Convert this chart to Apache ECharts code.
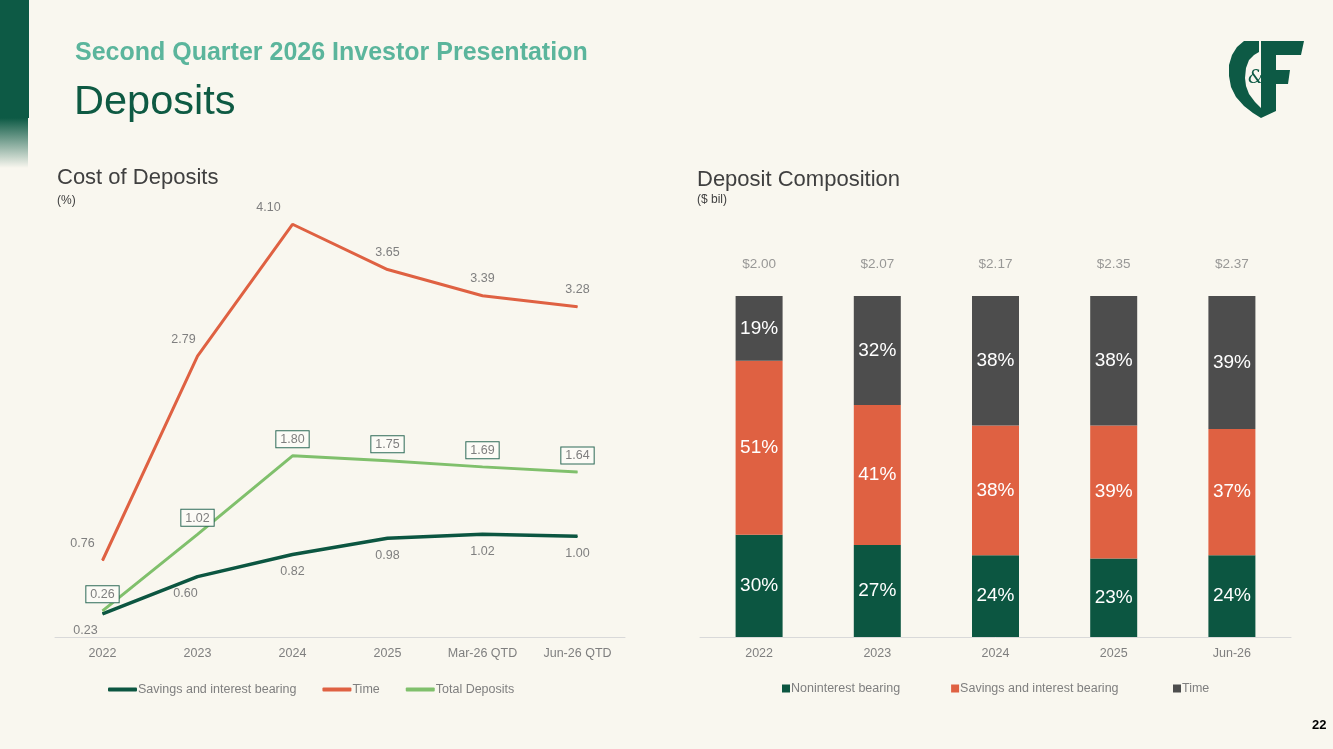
<!DOCTYPE html>
<html>
<head>
<meta charset="utf-8">
<script src="https://cdn.jsdelivr.net/npm/echarts@6/dist/echarts.min.js"></script>
<style>
html,body{margin:0;padding:0;background:#f9f7ef;}
#c{width:1333px;height:749px;}
</style>
</head>
<body>
<div id="c"></div>
<script>
// ---- data ----
const costCategories = ['2022', '2023', '2024', '2025', 'Mar-26 QTD', 'Jun-26 QTD'];
const savingsCost = [0.23, 0.60, 0.82, 0.98, 1.02, 1.00];
const timeCost = [0.76, 2.79, 4.10, 3.65, 3.39, 3.28];
const totalCost = [0.26, 1.02, 1.80, 1.75, 1.69, 1.64];

const compCategories = ['2022', '2023', '2024', '2025', 'Jun-26'];
const noninterestPct = [30, 27, 24, 23, 24];
const savingsPct = [51, 41, 38, 39, 37];
const timePct = [19, 32, 38, 38, 39];
const depositTotals = [2.00, 2.07, 2.17, 2.35, 2.37];
const stackTop = [100, 100, 100, 100, 100];

// ---- style (label nudges, as placed on the slide) ----
const savingsLabelDx = [-17, -12, 0, 0, 0, 0];
const timeLabelDx = [-20, -14, -24, 0, 0, 0];

const FONT = "'Liberation Sans', Arial, sans-serif";
const DK = '#0c5641';
const OR = '#df6142';
const LG = '#80c06c';
const LBL = '#7f7f7f';

const chart = echarts.init(document.getElementById('c'), null, {renderer: 'canvas'});

function withDx(values, dx) {
  return values.map((v, i) => dx && dx[i] ? {value: v, label: {offset: [dx[i], 0]}} : v);
}

function lineSeries(name, data, color, width, label, z) {
  return {name: name, type: 'line', xAxisIndex: 0, yAxisIndex: 0, data: data,
    symbol: 'circle', symbolSize: 1, showSymbol: true,
    lineStyle: {color: color, width: width}, itemStyle: {color: color},
    label: Object.assign({show: true, color: LBL, fontSize: 12.5, fontFamily: FONT,
      formatter: p => Number(p.value).toFixed(2)}, label), z: z};
}

const option = {
  backgroundColor: '#f9f7ef',
  textStyle: {fontFamily: FONT},
  animation: false,
  grid: [
    {left: 55, right: 708, top: 184, bottom: 112},
    {left: 700, right: 42, top: 296, bottom: 112}
  ],
  xAxis: [
    {type: 'category', gridIndex: 0, data: costCategories,
     axisLine: {lineStyle: {color: '#d9d9d9'}}, axisTick: {show: false},
     axisLabel: {color: LBL, fontSize: 12.5, margin: 10, fontFamily: FONT}},
    {type: 'category', gridIndex: 1, data: compCategories,
     axisLine: {lineStyle: {color: '#d9d9d9'}}, axisTick: {show: false},
     axisLabel: {color: LBL, fontSize: 12.5, margin: 10, fontFamily: FONT}}
  ],
  yAxis: [
    {type: 'value', gridIndex: 0, min: 0, max: 4.5, show: false},
    {type: 'value', gridIndex: 1, min: 0, max: 100, show: false}
  ],
  legend: [
    {left: 108, top: 683, padding: 0, itemWidth: 29, itemHeight: 4, itemGap: 26, icon: 'roundRect',
     textStyle: {color: LBL, fontSize: 12.5, fontFamily: FONT, padding: [0, 0, 0, -4]},
     data: ['Savings and interest bearing', 'Time', 'Total Deposits']},
    {left: 782, top: 682, padding: 0, itemWidth: 8, itemHeight: 8, itemGap: 51, icon: 'rect',
     textStyle: {color: LBL, fontSize: 12.5, fontFamily: FONT, padding: [0, 0, 0, -4]},
     data: ['Noninterest bearing', 'Savings and interest bearing ', 'Time ']}
  ],
  series: [
    lineSeries('Savings and interest bearing', withDx(savingsCost, savingsLabelDx), DK, 3.5, {position: 'bottom', distance: 10}, 3),
    lineSeries('Time', withDx(timeCost, timeLabelDx), OR, 3, {position: 'top', distance: 10}, 2),
    lineSeries('Total Deposits', totalCost, LG, 3, {position: 'top', distance: 8,
      backgroundColor: '#fcfbf6', borderColor: '#2e6b58', borderWidth: 1, padding: [2, 4, 1, 4]}, 4),

    {name: 'Noninterest bearing', type: 'bar', xAxisIndex: 1, yAxisIndex: 1, stack: 'comp',
     data: noninterestPct, barWidth: 47, itemStyle: {color: '#0c5641'},
     label: {show: true, position: 'inside', color: '#ffffff', fontSize: 19, formatter: '{c}%'}},
    {name: 'Savings and interest bearing ', type: 'bar', xAxisIndex: 1, yAxisIndex: 1, stack: 'comp',
     data: savingsPct, barWidth: 47, itemStyle: {color: '#df6142'},
     label: {show: true, position: 'inside', color: '#ffffff', fontSize: 19, formatter: '{c}%'}},
    {name: 'Time ', type: 'bar', xAxisIndex: 1, yAxisIndex: 1, stack: 'comp',
     data: timePct, barWidth: 47, itemStyle: {color: '#4d4d4d'},
     label: {show: true, position: 'inside', color: '#ffffff', fontSize: 19, formatter: '{c}%'}},
    {name: 'totals', type: 'scatter', xAxisIndex: 1, yAxisIndex: 1,
     data: stackTop, symbolSize: 1, itemStyle: {color: 'rgba(0,0,0,0)'}, silent: true,
     label: {show: true, position: 'top', distance: 24, color: LBL, fontSize: 13.5,
             formatter: p => '$' + depositTotals[p.dataIndex].toFixed(2)}}
  ],
  graphic: [
    // brush stroke on left edge
    {type: 'rect', shape: {x: 0, y: 0, width: 29, height: 118}, style: {fill: '#0d5a45'}},
    {type: 'rect', shape: {x: 0, y: 118, width: 28, height: 50},
     style: {fill: {type: 'linear', x: 0, y: 0, x2: 0, y2: 1, colorStops: [
       {offset: 0, color: 'rgba(13,90,69,1)'}, {offset: 1, color: 'rgba(13,90,69,0)'}]}}},
    // titles
    {type: 'text', x: 75, y: 41, style: {text: 'Second Quarter 2026 Investor Presentation',
      fill: '#5bb59c', font: "bold 25px " + FONT}},
    {type: 'text', x: 74, y: 82, style: {text: 'Deposits', fill: '#0e5a43', font: "41.5px " + FONT}},
    {type: 'text', x: 57, y: 167, style: {text: 'Cost of Deposits', fill: '#404040', font: "22px " + FONT}},
    {type: 'text', x: 57, y: 195, style: {text: '(%)', fill: '#404040', font: "12px " + FONT}},
    {type: 'text', x: 697, y: 169, style: {text: 'Deposit Composition', fill: '#404040', font: "22px " + FONT}},
    {type: 'text', x: 697, y: 194, style: {text: '($ bil)', fill: '#404040', font: "12px " + FONT}},
    {type: 'text', x: 1312, y: 719, style: {text: '22', fill: '#000000', font: "bold 13px " + FONT}},
    // logo
    {type: 'polygon', shape: {points: [[1244, 41], [1237, 47], [1232, 55], [1229, 65], [1229, 76], [1231, 87], [1236, 97], [1244, 106], [1253, 113], [1261, 118],
                                       [1261, 108], [1255, 102], [1249, 94], [1246, 86], [1245, 78], [1246, 68], [1249, 60], [1254, 55], [1259, 52], [1259, 41]]},
     style: {fill: '#0d5a45'}},
    {type: 'polygon', shape: {points: [[1261, 41], [1304, 41], [1301, 55], [1276, 55], [1276, 70], [1290, 70], [1288, 84], [1276, 84], [1276, 111], [1261, 118]]},
     style: {fill: '#0d5a45'}},
    {type: 'text', x: 1248, y: 69, style: {text: '&', fill: '#0d5a45', font: "italic 18px 'DejaVu Serif', serif"}}
  ]
};
chart.setOption(option);
</script>
</body>
</html>
